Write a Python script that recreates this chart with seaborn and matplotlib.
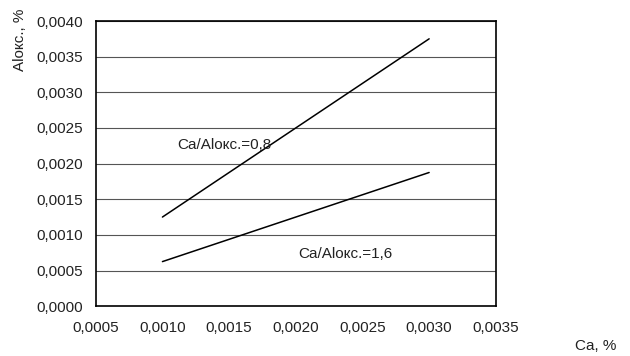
import matplotlib
matplotlib.use("Agg")
import matplotlib.pyplot as plt
import seaborn as sns
import pandas as pd
from matplotlib.ticker import FuncFormatter

ca = [0.0010, 0.0030]
al_08 = [0.00125, 0.00375]
al_16 = [0.000625, 0.001875]
xticks = [0.0005, 0.0010, 0.0015, 0.0020, 0.0025, 0.0030, 0.0035]
yticks = [0.0000, 0.0005, 0.0010, 0.0015, 0.0020, 0.0025, 0.0030, 0.0035, 0.0040]

df = pd.DataFrame({
    "Ca": ca + ca,
    "Al": al_08 + al_16,
    "s": ["0,8"] * 2 + ["1,6"] * 2,
})

sns.set_theme(style="white")
plt.rcParams['font.family'] = ['Liberation Sans', 'DejaVu Sans']

fig = plt.figure(figsize=(6.3, 3.56), dpi=100)
ax = fig.add_axes([0.152, 0.140, 0.635, 0.801])
sns.lineplot(data=df, x="Ca", y="Al", hue="s", palette=["black", "black"],
             legend=False, ax=ax, linewidth=1.1)

ax.set_xlim(0.0005, 0.0035)
ax.set_ylim(0, 0.0040)
ax.set_xticks(xticks)
ax.set_yticks(yticks)
fmt = FuncFormatter(lambda v, p: f"{v:.4f}".replace(".", ","))
ax.xaxis.set_major_formatter(fmt)
ax.yaxis.set_major_formatter(fmt)
ax.tick_params(axis="both", labelsize=11, colors="#222222", length=0)
ax.tick_params(axis="x", pad=11)
ax.tick_params(axis="y", pad=9)
ax.yaxis.grid(True, color="#555555", linewidth=0.8)
ax.xaxis.grid(False)
for s in ax.spines.values():
    s.set_color("black")
    s.set_linewidth(1.2)
ax.set_xlabel("")
ax.set_ylabel("")

fig.text(0.032, 0.975, "Alокс., %", rotation=90, ha="center", va="top", fontsize=11, color="#222222")
fig.text(0.945, 0.028, "Ca, %", ha="center", va="center", fontsize=11, color="#222222")
ax.text(0.00111, 0.00226, "Ca/Alокс.=0,8", fontsize=11, va="center", color="#222222")
ax.text(0.00202, 0.00073, "Ca/Alокс.=1,6", fontsize=11, va="center", color="#222222")

fig.savefig("out.png", dpi=100)
